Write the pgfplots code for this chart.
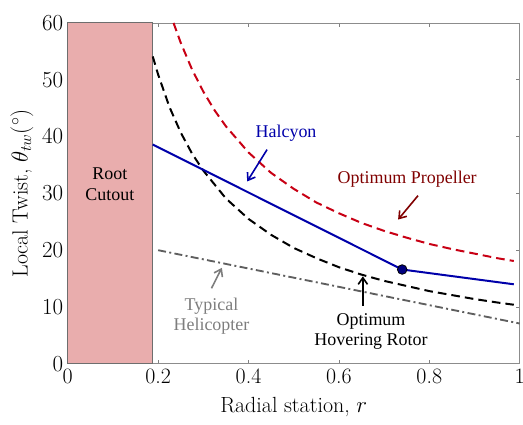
\documentclass[border=0pt]{standalone}
\usepackage{fontspec}
\usepackage{pgfplots}
\pgfplotsset{compat=1.18}
\usetikzlibrary{arrows.meta}
\newfontfamily\tnr{Liberation Serif}

\definecolor{cutfill}{RGB}{233,173,173}
\definecolor{cutedge}{RGB}{110,110,110}
\definecolor{halblue}{RGB}{0,0,170}
\definecolor{propred}{RGB}{200,0,20}
\definecolor{proptext}{RGB}{128,0,0}
\definecolor{heligray}{RGB}{95,95,95}
\definecolor{helitext}{RGB}{125,125,125}

\begin{document}
\begin{tikzpicture}
\begin{axis}[
    scale only axis,
    width=340pt, height=256.5pt,
    xmin=0, xmax=1, ymin=0, ymax=60,
    xtick={0,0.2,0.4,0.6,0.8,1},
    xticklabels={0,0.2,0.4,0.6,0.8,1},
    ytick={0,10,20,30,40,50,60},
    tick align=inside,
    major tick length=3pt,
    every tick/.style={gray, line width=0.5pt},
    axis line style={gray!90, line width=0.6pt},
    ticklabel style={font=\fontsize{16.5}{19}\selectfont},
    xlabel={Radial station, $r$},
    ylabel={Local Twist, $\theta_{tw}(^\circ)$},
    every axis x label/.style={at={(axis description cs:0.5,-0.126)}, anchor=center, font=\fontsize{16.5}{19}\selectfont},
    every axis y label/.style={at={(axis description cs:-0.1015,0.5)}, rotate=90, anchor=center, font=\fontsize{16.5}{19}\selectfont},
    clip=false,
  ]

  % root cutout
  \addplot[fill=cutfill, draw=cutedge, line width=0.8pt] coordinates {
    (0,0) (0,60) (0.188,60) (0.188,0)
  } -- cycle;

  % typical helicopter (linear twist)
  \addplot[heligray, line width=1.4pt, dash pattern=on 6pt off 2.5pt on 1.5pt off 2.5pt] coordinates {
    (0.2,20.0) (1.0,7.1)
  };

  % optimum hovering rotor
  \addplot[black, line width=1.5pt, dash pattern=on 6.5pt off 3.8pt] coordinates {
    (0.188,54.1) (0.2,50.9) (0.225,45.2) (0.25,40.7) (0.275,37.0) (0.3,34.0)
    (0.35,29.1) (0.4,25.5) (0.45,22.7) (0.5,20.4) (0.55,18.6) (0.6,17.0)
    (0.65,15.7) (0.7,14.6) (0.75,13.7) (0.8,12.8) (0.85,12.1) (0.9,11.4)
    (0.95,10.8) (0.987,10.4)
  };

  % optimum propeller
  \addplot[propred, line width=1.5pt, dash pattern=on 6.5pt off 3.8pt] coordinates {
    (0.234,60.0) (0.25,56.5) (0.275,51.8) (0.3,47.9) (0.325,44.6) (0.35,41.8)
    (0.4,37.2) (0.45,33.6) (0.5,30.8) (0.55,28.4) (0.6,26.5) (0.65,24.8)
    (0.7,23.4) (0.75,22.2) (0.8,21.1) (0.85,20.2) (0.9,19.4) (0.95,18.6)
    (0.987,18.1)
  };

  % Halcyon
  \addplot[halblue, line width=1.5pt] coordinates {
    (0.188,38.6) (0.74,16.6) (0.987,14.0)
  };
  \addplot[only marks, mark=*, mark size=3.6pt, mark options={fill=halblue!75!black, draw=black, line width=0.6pt}] coordinates {
    (0.74,16.6)
  };

  % annotations
  \node[font=\tnr\fontsize{13.5}{15.5}\selectfont, align=center] at (axis cs:0.093,31.6) {Root\\Cutout};
  \node[font=\tnr\fontsize{13.5}{15.5}\selectfont, text=halblue] at (axis cs:0.483,40.6) {Halcyon};
  \draw[halblue, line width=1.2pt, -{Straight Barb[length=5pt,width=7pt]}] (axis cs:0.441,37.7) -- (axis cs:0.397,32.1);
  \node[font=\tnr\fontsize{13.5}{15.5}\selectfont, text=proptext] at (axis cs:0.751,32.5) {Optimum Propeller};
  \draw[proptext, line width=1.2pt, -{Straight Barb[length=5pt,width=7pt]}] (axis cs:0.775,29.6) -- (axis cs:0.731,25.4);
  \node[font=\tnr\fontsize{13.5}{15.5}\selectfont, align=center] at (axis cs:0.671,5.7) {Optimum\\Hovering Rotor};
  \draw[black, line width=1.2pt, -{Straight Barb[length=5pt,width=7pt]}] (axis cs:0.653,10.2) -- (axis cs:0.653,15.4);
  \node[font=\tnr\fontsize{13.5}{15.5}\selectfont, align=center, text=helitext] at (axis cs:0.318,8.4) {Typical\\Helicopter};
  \draw[helitext, line width=1.2pt, -{Straight Barb[length=5pt,width=7pt]}] (axis cs:0.318,13.3) -- (axis cs:0.341,16.9);

\end{axis}
\pgfresetboundingbox
\path ([shift={(-51pt,-45.75pt)}]current axis.south west) rectangle ([shift={(2.5pt,17.25pt)}]current axis.north east);
\end{tikzpicture}
\end{document}
